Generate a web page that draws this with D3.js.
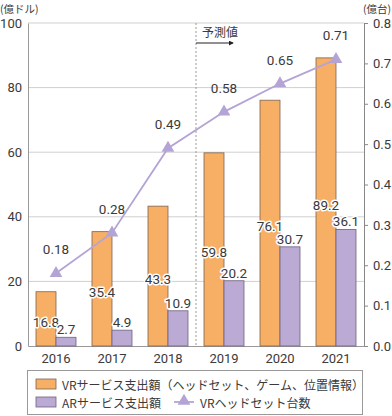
<!DOCTYPE html>
<html>
<head>
<meta charset="utf-8">
<script src="https://cdn.jsdelivr.net/npm/d3@7"></script>
<style>
body { margin: 0; background: #fff; }
text { font-family: "Noto Sans CJK JP", "Noto Sans", sans-serif; fill: #3a3a3a; }
text.num, .tick text { font-family: Roboto, "Noto Sans", sans-serif; }
</style>
</head>
<body>
<div id="chart"></div>
<script>
let w = 392;
let h = 416;

// datos
let years = ['2016', '2017', '2018', '2019', '2020', '2021'];
let vrSpend = [16.8, 35.4, 43.3, 59.8, 76.1, 89.2];
let arSpend = [2.7, 4.9, 10.9, 20.2, 30.7, 36.1];
let vrUnits = [0.18, 0.28, 0.49, 0.58, 0.65, 0.71];
let leftTicks = [0, 20, 40, 60, 80, 100];
let rightTicks = [0, 0.1, 0.2, 0.3, 0.4, 0.5, 0.6, 0.7, 0.8];

let pLeft = 28, pRight = 364, pTop = 23, pBottom = 346;
let orange = '#f7af66';
let purple = '#baaad4';
let lineCol = '#b4a4d6';

let svg = d3.select('#chart')
  .append('svg')
  .attr('width', w)
  .attr('height', h);

let x = d3.scaleBand().domain(years).range([pLeft, pRight]);
let yL = d3.scaleLinear().domain([0, 100]).range([pBottom, pTop]);
let yR = d3.scaleLinear().domain([0, 0.8]).range([pBottom, pTop]);

// grid
svg.append('g')
  .selectAll('line')
  .data(leftTicks.slice(1))
  .enter()
  .append('line')
  .attr('x1', pLeft).attr('x2', pRight)
  .attr('y1', d => yL(d)).attr('y2', d => yL(d))
  .attr('stroke', '#d0d0d0')
  .attr('stroke-width', 1);

// dashed forecast line
let splitX = x('2019');
svg.append('line')
  .attr('x1', splitX).attr('x2', splitX)
  .attr('y1', pTop).attr('y2', pBottom)
  .attr('stroke', '#999')
  .attr('stroke-dasharray', '2,2');

svg.append('text')
  .attr('x', splitX + 6)
  .attr('y', 37)
  .attr('font-size', 12)
  .text('予測値');

svg.append('defs').append('marker')
  .attr('id', 'arr')
  .attr('viewBox', '0 0 6 6')
  .attr('refX', 5).attr('refY', 3)
  .attr('markerWidth', 5).attr('markerHeight', 5)
  .attr('orient', 'auto')
  .append('path')
  .attr('d', 'M0,0L6,3L0,6Z')
  .attr('fill', '#222');

svg.append('line')
  .attr('x1', splitX).attr('x2', splitX + 37)
  .attr('y1', 43).attr('y2', 43)
  .attr('stroke', '#222')
  .attr('stroke-width', 1)
  .attr('marker-end', 'url(#arr)');

// axes
let axisL = svg.append('g')
  .attr('transform', 'translate(' + pLeft + ',0)')
  .call(d3.axisLeft(yL).tickValues(leftTicks).tickSize(0).tickPadding(6));
axisL.select('.domain').attr('stroke', '#999');
axisL.selectAll('text').attr('font-size', 13).attr('fill', '#3a3a3a');

let axisR = svg.append('g')
  .attr('transform', 'translate(' + pRight + ',0)')
  .call(d3.axisRight(yR).tickValues(rightTicks).tickSize(4).tickPadding(5).tickFormat(d3.format('.1f')));
axisR.select('.domain').attr('stroke', '#888');
axisR.selectAll('line').attr('stroke', '#888');
axisR.selectAll('text').attr('font-size', 13).attr('fill', '#3a3a3a');

let axisB = svg.append('g')
  .attr('transform', 'translate(0,' + pBottom + ')')
  .call(d3.axisBottom(x).tickSize(0).tickPadding(8));
axisB.select('.domain').attr('stroke', '#999');
axisB.selectAll('text').attr('font-size', 13).attr('fill', '#3a3a3a');

svg.append('text').attr('x', 0).attr('y', 12.5).attr('font-size', 10.5).text('(億ドル)');
svg.append('text').attr('x', 391).attr('y', 12.5).attr('font-size', 10.5).attr('text-anchor', 'end').text('(億台)');

// bars
let barW = 20;
let off = (x.bandwidth() - 2 * barW) / 2;

svg.selectAll('rect.vr')
  .data(vrSpend)
  .enter()
  .append('rect')
  .attr('class', 'vr')
  .attr('x', (d, i) => x(years[i]) + off)
  .attr('y', d => yL(d))
  .attr('width', barW)
  .attr('height', d => pBottom - yL(d))
  .attr('fill', orange)
  .attr('stroke', '#7d6350')
  .attr('stroke-width', 0.8);

svg.selectAll('rect.ar')
  .data(arSpend)
  .enter()
  .append('rect')
  .attr('class', 'ar')
  .attr('x', (d, i) => x(years[i]) + off + barW)
  .attr('y', d => yL(d))
  .attr('width', barW)
  .attr('height', d => pBottom - yL(d))
  .attr('fill', purple)
  .attr('stroke', '#6f6280')
  .attr('stroke-width', 0.8);

// line
let line = d3.line()
  .x((d, i) => x(years[i]) + x.bandwidth() / 2)
  .y(d => yR(d));

svg.append('path')
  .datum(vrUnits)
  .attr('d', line)
  .attr('fill', 'none')
  .attr('stroke', lineCol)
  .attr('stroke-width', 1.8);

let tri = d3.symbol().type(d3.symbolTriangle).size(70);
svg.selectAll('path.tri')
  .data(vrUnits)
  .enter()
  .append('path')
  .attr('class', 'tri')
  .attr('d', tri)
  .attr('transform', (d, i) => 'translate(' + (x(years[i]) + x.bandwidth() / 2) + ',' + yR(d) + ')')
  .attr('fill', lineCol);

// labels
function label(txt, lx, ly, halo) {
  let t = svg.append('text')
    .attr('class', 'num')
    .attr('x', lx).attr('y', ly)
    .attr('text-anchor', 'middle')
    .attr('dominant-baseline', 'central')
    .attr('font-size', 13.5)
    .text(txt);
  if (halo) {
    t.attr('stroke', '#fff').attr('stroke-width', 3).attr('paint-order', 'stroke').attr('stroke-linejoin', 'round');
  }
}

vrSpend.forEach((d, i) => {
  label(d.toFixed(1), x(years[i]) + off + barW / 2, (yL(d) + pBottom) / 2 + 3, true);
});
arSpend.forEach((d, i) => {
  label(d.toFixed(1), x(years[i]) + off + barW * 1.5, yL(d) - 8, true);
});
vrUnits.forEach((d, i) => {
  label(d.toFixed(2), x(years[i]) + x.bandwidth() / 2, yR(d) - 24, false);
});

// legend
svg.append('rect')
  .attr('x', 27.5).attr('y', 370.5)
  .attr('width', 335).attr('height', 44)
  .attr('fill', '#fff')
  .attr('stroke', '#999');

svg.append('rect').attr('x', 36).attr('y', 379).attr('width', 20).attr('height', 10)
  .attr('fill', orange).attr('stroke', '#7d6350').attr('stroke-width', 0.8);
svg.append('text').attr('x', 62).attr('y', 384).attr('dominant-baseline', 'central')
  .attr('font-size', 12).text('VRサービス支出額（ヘッドセット、ゲーム、位置情報）');

svg.append('rect').attr('x', 36).attr('y', 397).attr('width', 20).attr('height', 10)
  .attr('fill', purple).attr('stroke', '#6f6280').attr('stroke-width', 0.8);
svg.append('text').attr('x', 62).attr('y', 402).attr('dominant-baseline', 'central')
  .attr('font-size', 12).text('ARサービス支出額');

svg.append('line').attr('x1', 174).attr('x2', 194).attr('y1', 402).attr('y2', 402)
  .attr('stroke', lineCol).attr('stroke-width', 1.8);
svg.append('path').attr('d', tri).attr('transform', 'translate(184,401)').attr('fill', lineCol);
svg.append('text').attr('x', 200).attr('y', 402).attr('dominant-baseline', 'central')
  .attr('font-size', 12).text('VRヘッドセット台数');
</script>
</body>
</html>
